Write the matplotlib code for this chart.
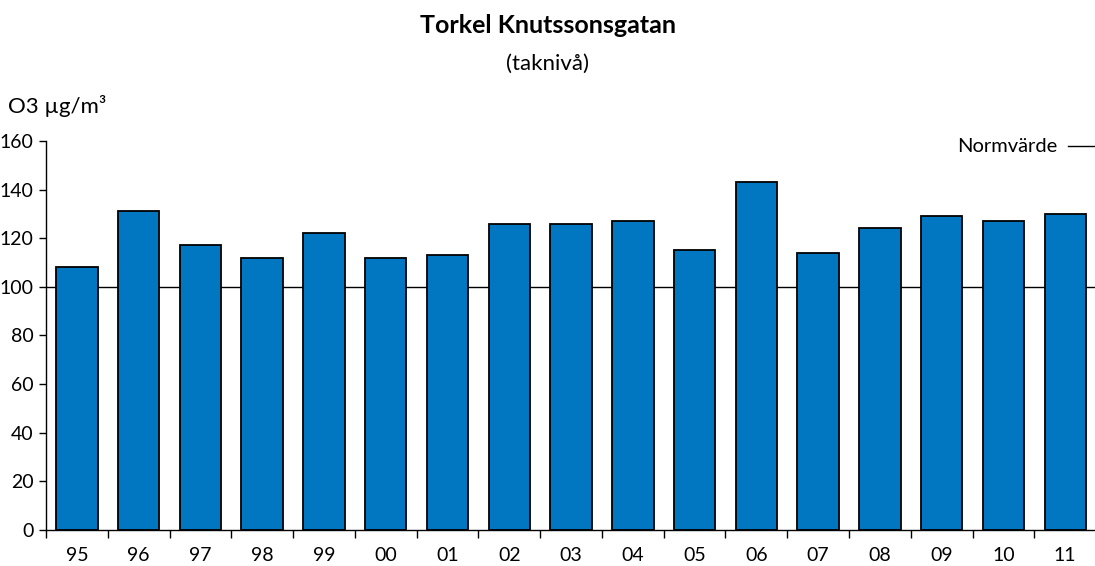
import matplotlib
matplotlib.use("Agg")
import matplotlib.pyplot as plt
import numpy as np

plt.rcParams['font.family'] = ['Lato', 'DejaVu Sans']

years = ["95", "96", "97", "98", "99", "00", "01", "02", "03", "04", "05", "06", "07", "08", "09", "10", "11"]
values = [108, 131, 117, 112, 122, 112, 113, 126, 126, 127, 115, 143, 114, 124, 129, 127, 130]
norm_value = 100
yticks = [0, 20, 40, 60, 80, 100, 120, 140, 160]

fig = plt.figure(figsize=(10.95, 5.66), dpi=100)
ax = fig.add_axes([0.042, 0.0636, 0.959, 0.6874])

x = np.arange(len(years))
ax.axhline(norm_value, color='black', linewidth=1.0, zorder=1)
ax.bar(x, values, width=0.67, color='#0077C0', edgecolor='black', linewidth=1.3, zorder=2)

ax.set_xlim(-0.5, len(years) - 0.5)
ax.set_ylim(0, 160)
ax.set_yticks(yticks)
ax.set_yticklabels([str(v) for v in yticks], fontsize=14)
ax.set_xticks(x)
ax.set_xticklabels(years, fontsize=14)
ax.tick_params(axis='x', length=0, pad=12)
ax.set_xticks(np.arange(-0.5, len(years), 1.0), minor=True)
ax.tick_params(axis='x', which='minor', length=6, width=1, direction='out')
ax.tick_params(axis='y', length=5, width=1, direction='out', pad=4)

for s in ['top', 'right']:
    ax.spines[s].set_visible(False)
for s in ['left', 'bottom']:
    ax.spines[s].set_linewidth(1.0)

fig.text(0.5, 0.955, "Torkel Knutssonsgatan", ha='center', va='center', fontsize=18, fontweight='bold')
fig.text(0.5, 0.888, "(taknivå)", ha='center', va='center', fontsize=16)
fig.text(0.007, 0.813, "O3 µg/m³", ha='left', va='center', fontsize=16)

# Normvärde legend
fig.text(0.966, 0.742, "Normvärde", ha='right', va='center', fontsize=14.5)
fig.add_artist(plt.Line2D([0.975, 1.0], [0.742, 0.742], color='black', linewidth=1.0, transform=fig.transFigure))

fig.savefig("out.png", dpi=100)
